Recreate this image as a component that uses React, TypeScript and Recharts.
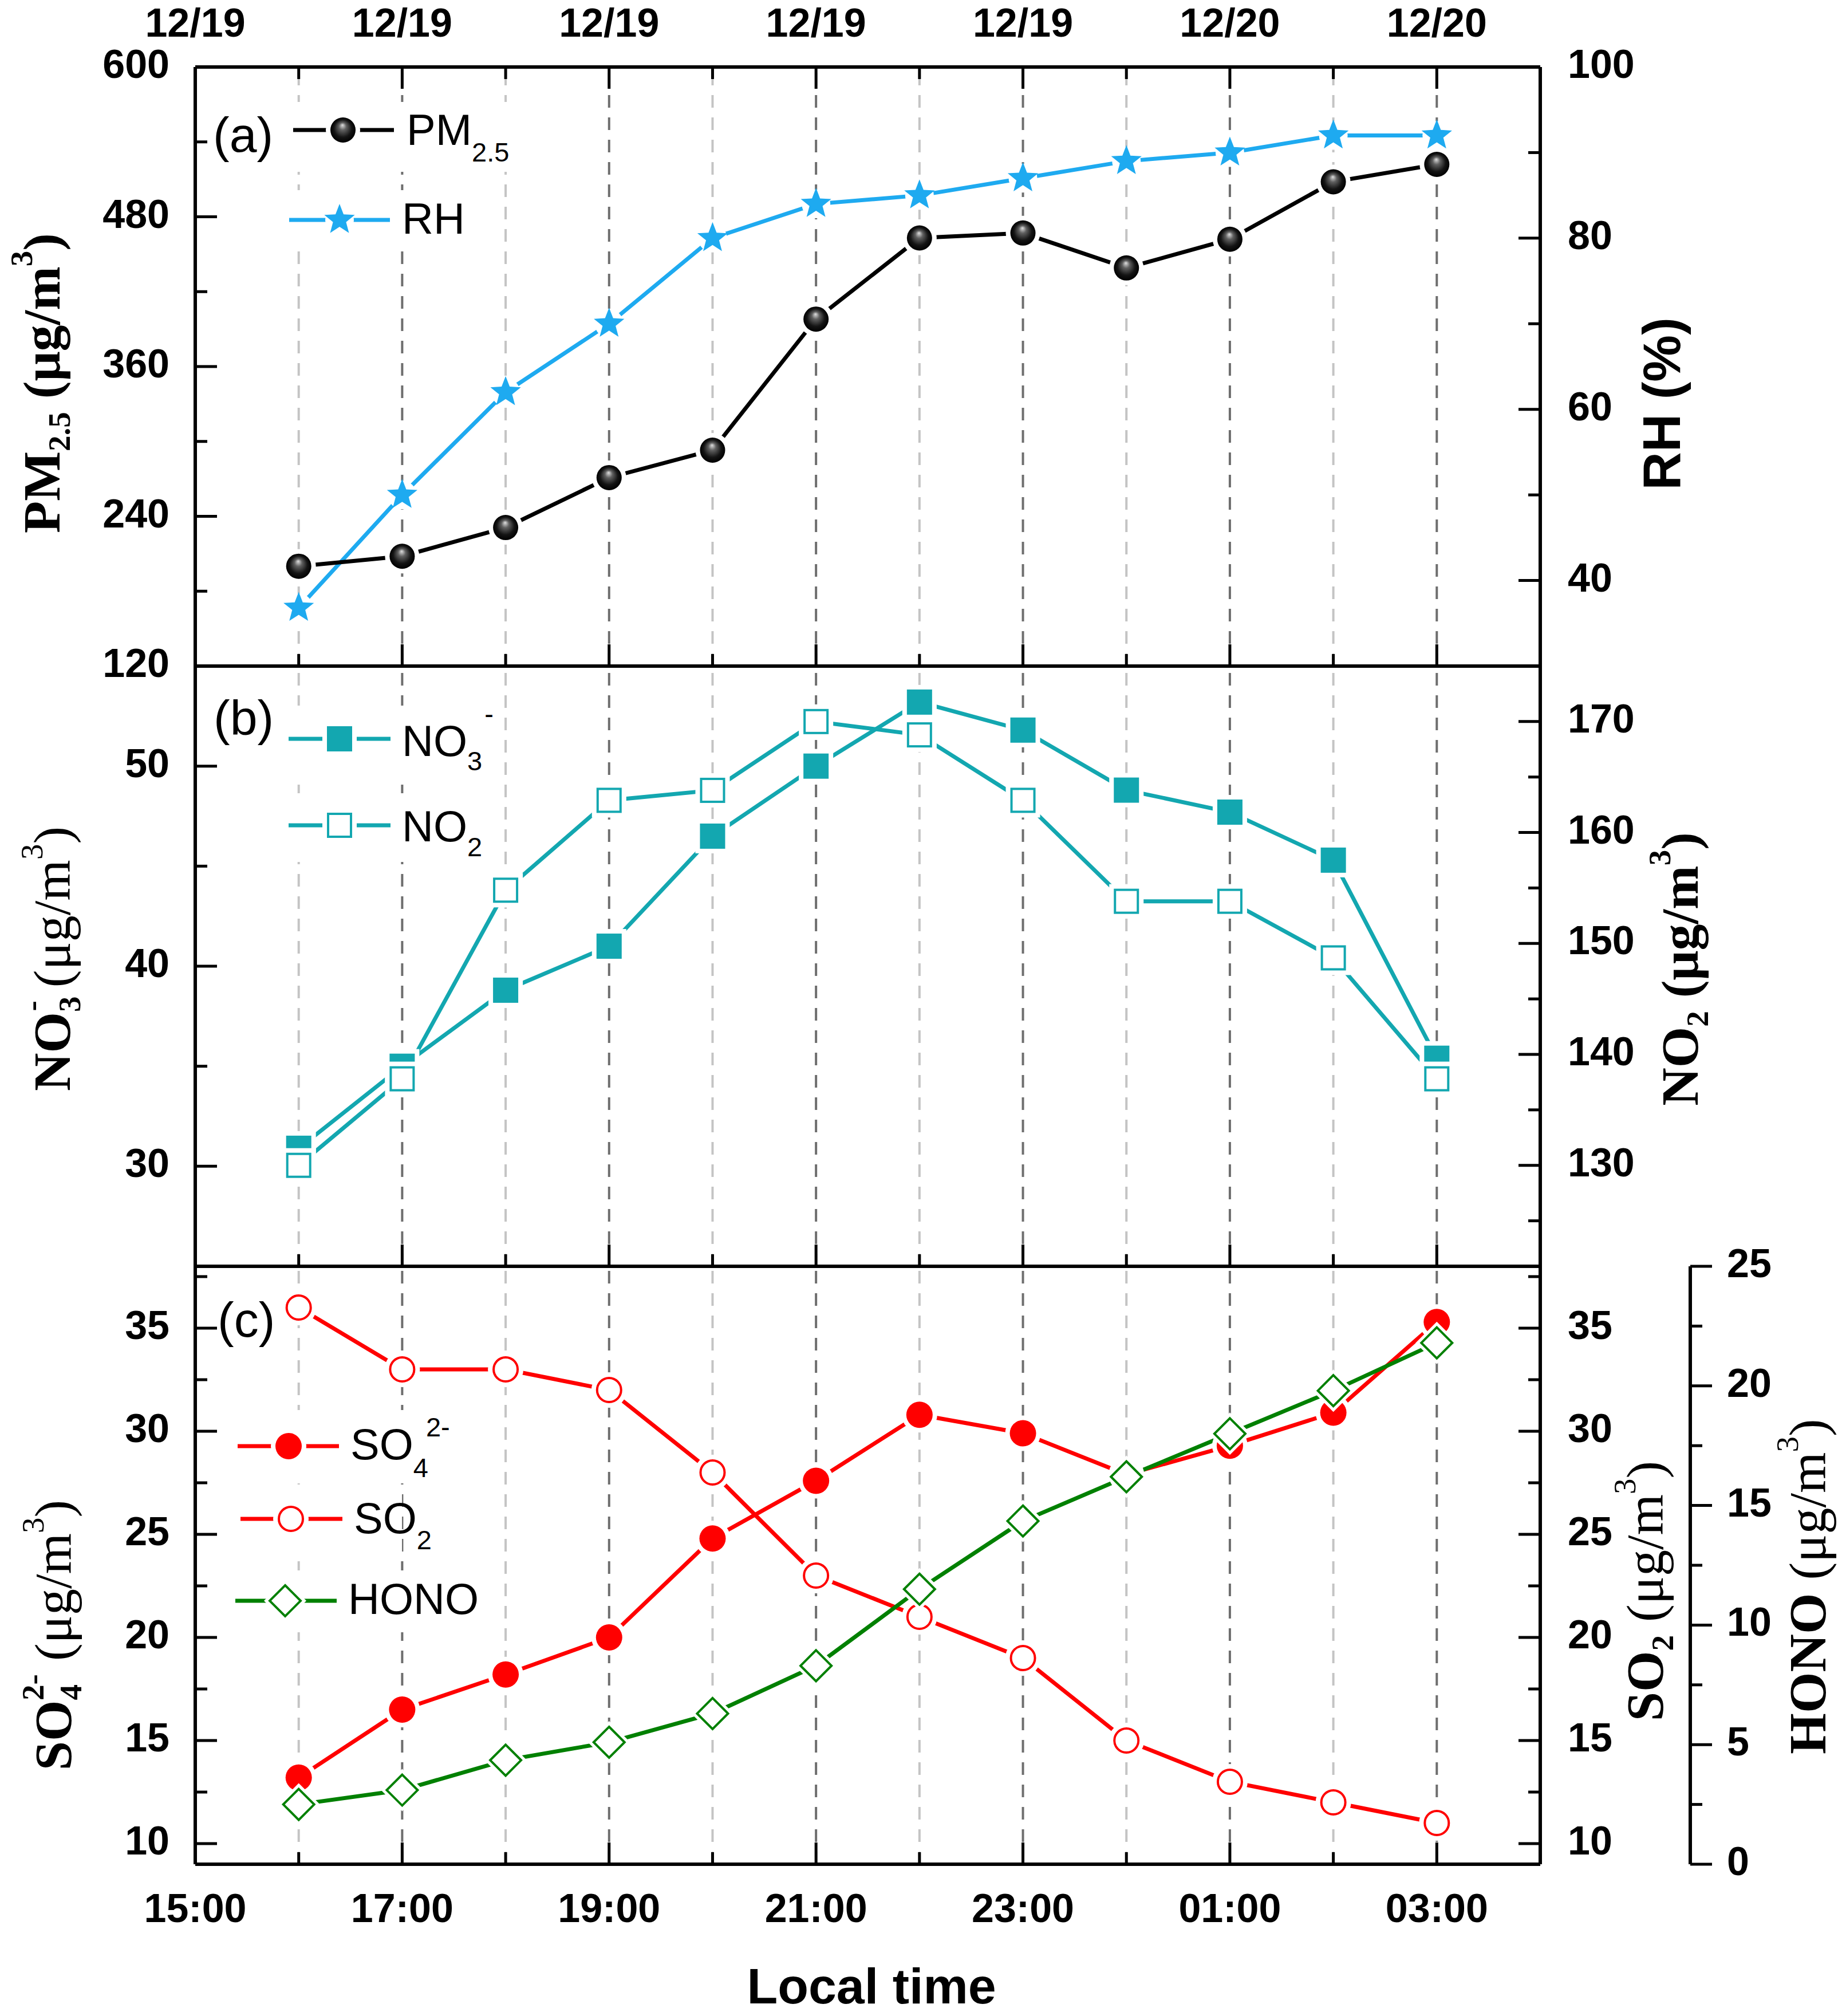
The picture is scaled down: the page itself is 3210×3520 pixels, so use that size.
import React from 'react'
import { LineChart, Line, XAxis, YAxis, ReferenceLine } from 'recharts'

// local hour of day, 24 = 00:00 on 12/20
const hours = [16, 17, 18, 19, 20, 21, 22, 23, 24, 25, 26, 27]

const pm25 = [200, 208, 231, 271, 293, 398, 463, 467, 439, 462, 508, 522]
const rh = [36.8, 50, 62, 70, 80, 84, 85, 87, 89, 90, 92, 92]
const no3 = [30.9, 35.0, 38.8, 41.0, 46.5, 50.0, 53.2, 51.8, 48.8, 47.7, 45.3, 35.4]
const no2 = [130, 137.8, 154.8, 162.9, 163.8, 170, 168.8, 162.9, 153.8, 153.8, 148.7, 137.8]
const so4 = [13.2, 16.5, 18.2, 20, 24.8, 27.6, 30.8, 29.9, 27.9, 29.3, 30.9, 35.3]
const so2 = [36, 33, 33, 32, 28, 23, 21, 19, 15, 13, 12, 11]
const hono = [2.5, 3.1, 4.35, 5.1, 6.3, 8.3, 11.5, 14.35, 16.2, 18.0, 19.8, 21.8]

const hourTicks = [15, 16, 17, 18, 19, 20, 21, 22, 23, 24, 25, 26, 27, 28]
const majorHours = [15, 17, 19, 21, 23, 25, 27]
const timeLabels = ['15:00', '17:00', '19:00', '21:00', '23:00', '01:00', '03:00']
const dateLabels = ['12/19', '12/19', '12/19', '12/19', '12/19', '12/20', '12/20']

const pmTicks = [120, 180, 240, 300, 360, 420, 480, 540, 600]
const pmLabels = [120, 240, 360, 480, 600]
const rhTicks = [40, 50, 60, 70, 80, 90, 100]
const rhLabels = [40, 60, 80, 100]
const no3Ticks = [30, 35, 40, 45, 50, 55]
const no3Labels = [30, 40, 50]
const no2Ticks = [125, 130, 135, 140, 145, 150, 155, 160, 165, 170, 175]
const no2Labels = [130, 140, 150, 160, 170]
const so4Ticks = [10, 12.5, 15, 17.5, 20, 22.5, 25, 27.5, 30, 32.5, 35, 37.5]
const so4Labels = [10, 15, 20, 25, 30, 35]
const honoTicks = [0, 2.5, 5, 7.5, 10, 12.5, 15, 17.5, 20, 22.5, 25]
const honoLabels = [0, 5, 10, 15, 20, 25]

const rows = hours.map((h, i) => ({
  h,
  pm: pm25[i],
  rh: rh[i],
  no3: no3[i],
  no2: no2[i],
  so4: so4[i],
  so2: so2[i],
  hono: hono[i],
}))

const W = 3210
const H = 3520
const BLUE = '#1eaaf0'
const TEAL = '#13a7b0'
const RED = '#ff0000'
const GREEN = '#008000'
const SANS = '"Liberation Sans", Arial, sans-serif'
const SERIF = '"Liberation Serif", "Times New Roman", serif'
const AXIS = { stroke: '#000', strokeWidth: 6 }
const HALO = 8

function XTick(props: any) {
  const { x, y, payload, side, labels } = props
  const i = majorHours.indexOf(payload.value)
  const len = i >= 0 ? 38 : 21
  const dir = side === 'top' ? 1 : -1
  return (
    <g>
      <line x1={x} y1={y} x2={x} y2={y + dir * len} stroke="#000" strokeWidth={5} />
      {labels && i >= 0 && (
        <text x={x} y={side === 'top' ? y - 53 : y + 101} textAnchor="middle"
          fontFamily={SANS} fontWeight={700} fontSize={70} fill="#000">
          {labels[i]}
        </text>
      )}
    </g>
  )
}

function YTick(props: any) {
  const { x, y, payload, side, labels, outward } = props
  const v = payload.value
  const major = labels.includes(v)
  const len = major ? 38 : 21
  const dir = side === 'left' || outward ? 1 : -1
  const tx = side === 'left' ? x - 45 : x + (outward ? 64 : 48)
  return (
    <g>
      <line x1={x} y1={y} x2={x + dir * len} y2={y} stroke="#000" strokeWidth={5} />
      {major && (
        <text x={tx} y={y + 19} textAnchor={side === 'left' ? 'end' : 'start'}
          fontFamily={SANS} fontWeight={700} fontSize={70} fill="#000">
          {v}
        </text>
      )}
    </g>
  )
}

function starPoints(cx: number, cy: number, R: number, r: number) {
  const pts = []
  for (let k = 0; k < 10; k++) {
    const a = -Math.PI / 2 + (k * Math.PI) / 5
    const d = k % 2 ? r : R
    pts.push(`${cx + d * Math.cos(a)},${cy + d * Math.sin(a)}`)
  }
  return pts.join(' ')
}

function SphereDot({ cx, cy }: any) {
  return (
    <g>
      <circle cx={cx} cy={cy} r={22 + HALO} fill="#fff" />
      <circle cx={cx} cy={cy} r={22} fill="url(#pmBall)" />
    </g>
  )
}

function StarDot({ cx, cy }: any) {
  return (
    <g>
      <circle cx={cx} cy={cy} r={25} fill="#fff" />
      <polygon points={starPoints(cx, cy, 28, 12)} fill={BLUE} />
    </g>
  )
}

function SquareDot({ cx, cy, open }: any) {
  const h = 22
  return (
    <g>
      <rect x={cx - h - HALO} y={cy - h - HALO} width={2 * (h + HALO)} height={2 * (h + HALO)} fill="#fff" />
      {open ? (
        <rect x={cx - h + 2} y={cy - h + 2} width={2 * h - 4} height={2 * h - 4} fill="#fff" stroke={TEAL} strokeWidth={4} />
      ) : (
        <rect x={cx - h} y={cy - h} width={2 * h} height={2 * h} fill={TEAL} />
      )}
    </g>
  )
}

function CircleDot({ cx, cy, open }: any) {
  return (
    <g>
      <circle cx={cx} cy={cy} r={23 + HALO} fill="#fff" />
      {open ? (
        <circle cx={cx} cy={cy} r={21} fill="#fff" stroke={RED} strokeWidth={4} />
      ) : (
        <circle cx={cx} cy={cy} r={23} fill={RED} />
      )}
    </g>
  )
}

function DiamondDot({ cx, cy }: any) {
  const d = (s: number) => `${cx},${cy - s} ${cx + s},${cy} ${cx},${cy + s} ${cx - s},${cy}`
  return (
    <g>
      <polygon points={d(27 + HALO + 2)} fill="#fff" />
      <polygon points={d(27)} fill="#fff" stroke={GREEN} strokeWidth={4} />
    </g>
  )
}

function GridLines({ yId }: { yId: string }) {
  return (
    <>
      {hours.map((h) => (
        <ReferenceLine key={h} x={h} xAxisId="b" yAxisId={yId}
          stroke={h % 2 ? '#6e6e6e' : '#c4c4c4'} strokeWidth={4} strokeDasharray="22 17" />
      ))}
    </>
  )
}

function bottomAxis(labels?: string[]) {
  return (
    <XAxis xAxisId="b" orientation="bottom" dataKey="h" type="number" domain={[15, 28]}
      ticks={hourTicks} interval={0} height={110} tickSize={0} tickMargin={0} tickLine={false}
      axisLine={AXIS} tick={(p: any) => <XTick {...p} side="bottom" labels={labels} />} />
  )
}

function PanelA() {
  return (
    <LineChart width={W} height={H} data={rows} margin={{ top: 7, right: 270, bottom: H - 1163 - 110, left: 91 }}>
      <XAxis xAxisId="top" orientation="top" dataKey="h" type="number" domain={[15, 28]}
        ticks={hourTicks} interval={0} height={110} tickSize={0} tickMargin={0} tickLine={false}
        axisLine={AXIS} tick={(p: any) => <XTick {...p} side="top" labels={dateLabels} />} />
      {bottomAxis()}
      <YAxis yAxisId="l" orientation="left" type="number" domain={[120, 600]} ticks={pmTicks}
        interval={0} width={250} tickSize={0} tickMargin={0} tickLine={false} axisLine={AXIS}
        tick={(p: any) => <YTick {...p} side="left" labels={pmLabels} />} />
      <YAxis yAxisId="r" orientation="right" type="number" domain={[30, 100]} ticks={rhTicks}
        interval={0} width={250} tickSize={0} tickMargin={0} tickLine={false} axisLine={AXIS}
        tick={(p: any) => <YTick {...p} side="right" labels={rhLabels} />} />
      {GridLines({ yId: 'l' })}
      <Line xAxisId="b" yAxisId="r" dataKey="rh" stroke={BLUE} strokeWidth={7} activeDot={false}
        dot={(p: any) => <StarDot key={p.index} cx={p.cx} cy={p.cy} />} isAnimationActive={false} />
      <Line xAxisId="b" yAxisId="l" dataKey="pm" stroke="#000" strokeWidth={7} activeDot={false}
        dot={(p: any) => <SphereDot key={p.index} cx={p.cx} cy={p.cy} />} isAnimationActive={false} />
    </LineChart>
  )
}

function PanelB() {
  return (
    <LineChart width={W} height={H} data={rows} margin={{ top: 1163, right: 270, bottom: H - 2211 - 110, left: 91 }}>
      {bottomAxis()}
      <YAxis yAxisId="l" orientation="left" type="number" domain={[25, 55]} ticks={no3Ticks}
        interval={0} width={250} tickSize={0} tickMargin={0} tickLine={false} axisLine={AXIS}
        tick={(p: any) => <YTick {...p} side="left" labels={no3Labels} />} />
      <YAxis yAxisId="r" orientation="right" type="number" domain={[120.9, 175]} ticks={no2Ticks}
        interval={0} width={250} tickSize={0} tickMargin={0} tickLine={false} axisLine={AXIS}
        tick={(p: any) => <YTick {...p} side="right" labels={no2Labels} />} />
      {GridLines({ yId: 'l' })}
      <Line xAxisId="b" yAxisId="l" dataKey="no3" stroke={TEAL} strokeWidth={7} activeDot={false}
        dot={(p: any) => <SquareDot key={p.index} cx={p.cx} cy={p.cy} />} isAnimationActive={false} />
      <Line xAxisId="b" yAxisId="r" dataKey="no2" stroke={TEAL} strokeWidth={7} activeDot={false}
        dot={(p: any) => <SquareDot key={p.index} cx={p.cx} cy={p.cy} open />} isAnimationActive={false} />
    </LineChart>
  )
}

function PanelC() {
  return (
    <LineChart width={W} height={H} data={rows} margin={{ top: 2211, right: 58, bottom: H - 3255 - 110, left: 91 }}>
      {bottomAxis(timeLabels)}
      <YAxis yAxisId="l" orientation="left" type="number" domain={[9, 38]} ticks={so4Ticks}
        interval={0} width={250} tickSize={0} tickMargin={0} tickLine={false} axisLine={AXIS}
        tick={(p: any) => <YTick {...p} side="left" labels={so4Labels} />} />
      <YAxis yAxisId="b_hono" orientation="right" type="number" domain={[0, 25]} ticks={honoTicks}
        interval={0} width={200} tickSize={0} tickMargin={0} tickLine={false} axisLine={AXIS}
        tick={(p: any) => <YTick {...p} side="right" outward labels={honoLabels} />} />
      <YAxis yAxisId="a_so2" orientation="right" type="number" domain={[9, 38]} ticks={so4Ticks}
        interval={0} width={262} tickSize={0} tickMargin={0} tickLine={false} axisLine={AXIS}
        tick={(p: any) => <YTick {...p} side="right" labels={so4Labels} />} />
      {GridLines({ yId: 'l' })}
      <Line xAxisId="b" yAxisId="l" dataKey="so4" stroke={RED} strokeWidth={7} activeDot={false}
        dot={(p: any) => <CircleDot key={p.index} cx={p.cx} cy={p.cy} />} isAnimationActive={false} />
      <Line xAxisId="b" yAxisId="a_so2" dataKey="so2" stroke={RED} strokeWidth={7} activeDot={false}
        dot={(p: any) => <CircleDot key={p.index} cx={p.cx} cy={p.cy} open />} isAnimationActive={false} />
      <Line xAxisId="b" yAxisId="b_hono" dataKey="hono" stroke={GREEN} strokeWidth={7} activeDot={false}
        dot={(p: any) => <DiamondDot key={p.index} cx={p.cx} cy={p.cy} />} isAnimationActive={false} />
    </LineChart>
  )
}

const legendText = { fontFamily: SANS, fontSize: 76, fill: '#000' }
const titleSerif = { fontFamily: SERIF, fontWeight: 700, fontSize: 92, fill: '#000', textAnchor: 'middle' as const }

function Overlay() {
  return (
    <svg width={W} height={H} style={{ position: 'absolute', left: 0, top: 0, pointerEvents: 'none' }}>
      {/* legend masks */}
      <g fill="#fff">
        <rect x={505} y={178} width={390} height={122} />
        <rect x={500} y={332} width={270} height={100} />
        <rect x={498} y={1232} width={370} height={125} />
        <rect x={498} y={1385} width={300} height={120} />
        <rect x={408} y={2462} width={400} height={128} />
        <rect x={412} y={2597} width={290} height={120} />
        <rect x={404} y={2742} width={440} height={108} />
      </g>

      <text x={372} y={265} {...legendText} fontSize={86}>(a)</text>
      <line x1={512} y1={227} x2={688} y2={227} stroke="#000" strokeWidth={7} />
      <SphereDot cx={599} cy={227} />
      <text x={710} y={253} {...legendText}>PM<tspan fontSize={47} dy={29}>2.5</tspan></text>
      <line x1={505} y1={384} x2={681} y2={384} stroke={BLUE} strokeWidth={7} />
      <StarDot cx={593} cy={384} />
      <text x={702} y={408} {...legendText}>RH</text>

      <text x={373} y={1283} {...legendText} fontSize={86}>(b)</text>
      <line x1={504} y1={1290} x2={682} y2={1290} stroke={TEAL} strokeWidth={7} />
      <SquareDot cx={593} cy={1290} />
      <text x={702} y={1320} {...legendText}>
        NO<tspan fontSize={47} dy={25}>3</tspan><tspan fontSize={47} dx={4} dy={-82}>-</tspan>
      </text>
      <line x1={504} y1={1441} x2={682} y2={1441} stroke={TEAL} strokeWidth={7} />
      <SquareDot cx={593} cy={1441} open />
      <text x={702} y={1469} {...legendText}>NO<tspan fontSize={47} dy={26}>2</tspan></text>

      <text x={380} y={2334} {...legendText} fontSize={86}>(c)</text>
      <line x1={415} y1={2525} x2={592} y2={2525} stroke={RED} strokeWidth={7} />
      <CircleDot cx={504} cy={2525} />
      <text x={612} y={2548} {...legendText}>
        SO<tspan fontSize={47} dy={31}>4</tspan><tspan fontSize={47} dx={-4} dy={-71}>2-</tspan>
      </text>
      <line x1={420} y1={2652} x2={598} y2={2652} stroke={RED} strokeWidth={7} />
      <CircleDot cx={508} cy={2652} open />
      <text x={618} y={2677} {...legendText}>SO<tspan fontSize={47} dy={28}>2</tspan></text>
      <line x1={411} y1={2795} x2={588} y2={2795} stroke={GREEN} strokeWidth={7} />
      <DiamondDot cx={498} cy={2795} />
      <text x={608} y={2818} {...legendText}>HONO</text>

      {/* axis titles */}
      <text transform="translate(104,669) rotate(-90)" {...titleSerif}>
        PM<tspan fontSize={55} dy={18}>2.5</tspan>
        <tspan dy={-18}> (μg/m</tspan><tspan fontSize={55} dy={-48}>3</tspan><tspan dy={48}>)</tspan>
      </text>
      <text transform="translate(2934,705) rotate(-90)" fontFamily={SANS} fontWeight={700} fontSize={92} textAnchor="middle">
        RH (%)
      </text>
      <text transform="translate(122,1674) rotate(-90)" {...titleSerif}>
        NO<tspan fontSize={55} dy={18}>3</tspan><tspan fontSize={55} dx={-26} dy={-66}>-</tspan>
        <tspan dy={48} fontWeight={400}> (μg/m</tspan><tspan fontSize={55} fontWeight={400} dy={-48}>3</tspan>
        <tspan dy={48} fontWeight={400}>)</tspan>
      </text>
      <text transform="translate(2965,1692) rotate(-90)" {...titleSerif}>
        NO<tspan fontSize={55} dy={18}>2</tspan>
        <tspan dy={-18}> (μg/m</tspan><tspan fontSize={55} dy={-48}>3</tspan><tspan dy={48}>)</tspan>
      </text>
      <text transform="translate(124,2855) rotate(-90)" {...titleSerif}>
        SO<tspan fontSize={55} dy={18}>4</tspan><tspan fontSize={55} dx={-28} dy={-66}>2-</tspan>
        <tspan dy={48} fontWeight={400}> (μg/m</tspan><tspan fontSize={55} fontWeight={400} dy={-48}>3</tspan>
        <tspan dy={48} fontWeight={400}>)</tspan>
      </text>
      <text transform="translate(2904,2778) rotate(-90)" {...titleSerif}>
        SO<tspan fontSize={55} dy={18}>2</tspan>
        <tspan dy={-18} fontWeight={400}> (μg/m</tspan><tspan fontSize={55} fontWeight={400} dy={-48}>3</tspan>
        <tspan dy={48} fontWeight={400}>)</tspan>
      </text>
      <text transform="translate(3188,2770) rotate(-90)" {...titleSerif}>
        HONO<tspan fontWeight={400}> (μg/m</tspan><tspan fontSize={55} fontWeight={400} dy={-48}>3</tspan>
        <tspan dy={48} fontWeight={400}>)</tspan>
      </text>
      <text x={1522} y={3498} fontFamily={SANS} fontWeight={700} fontSize={88} textAnchor="middle">
        Local time
      </text>
    </svg>
  )
}

export default function App() {
  return (
    <div style={{ position: 'absolute', left: 0, top: 0, width: W, height: H, background: '#fff', overflow: 'hidden' }}>
      <svg width={0} height={0} style={{ position: 'absolute' }}>
        <defs>
          <radialGradient id="pmBall" cx="0.5" cy="0.5" r="0.5" fx="0.48" fy="0.3">
            <stop offset="0%" stopColor="#e0e0e0" />
            <stop offset="30%" stopColor="#606060" />
            <stop offset="70%" stopColor="#141414" />
            <stop offset="100%" stopColor="#000" />
          </radialGradient>
        </defs>
      </svg>
      <div style={{ position: 'absolute', left: 0, top: 0 }}><PanelA /></div>
      <div style={{ position: 'absolute', left: 0, top: 0 }}><PanelB /></div>
      <div style={{ position: 'absolute', left: 0, top: 0 }}><PanelC /></div>
      <Overlay />
    </div>
  )
}
